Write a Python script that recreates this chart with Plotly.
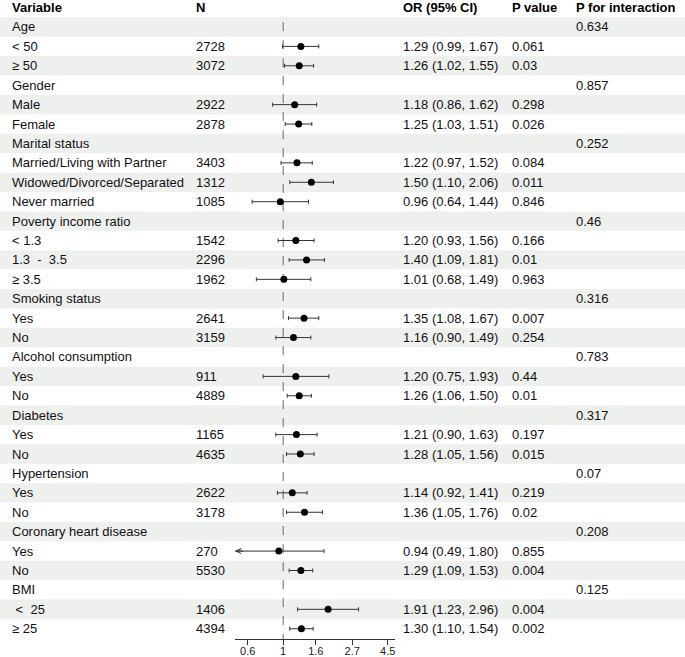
import numpy as np
import plotly.graph_objects as go

# ---------------- data ----------------
labels = ["Age", "< 50", "≥ 50",
          "Gender", "Male", "Female",
          "Marital status", "Married/Living with Partner", "Widowed/Divorced/Separated", "Never married",
          "Poverty income ratio", "< 1.3", "1.3\u00a0\u00a0-\u00a0\u00a03.5", "≥ 3.5",
          "Smoking status", "Yes", "No",
          "Alcohol consumption", "Yes", "No",
          "Diabetes", "Yes", "No",
          "Hypertension", "Yes", "No",
          "Coronary heart disease", "Yes", "No",
          "BMI", "\u00a0<\u00a0\u00a025", "≥ 25"]
n_vals = [None, 2728, 3072,
          None, 2922, 2878,
          None, 3403, 1312, 1085,
          None, 1542, 2296, 1962,
          None, 2641, 3159,
          None, 911, 4889,
          None, 1165, 4635,
          None, 2622, 3178,
          None, 270, 5530,
          None, 1406, 4394]
or_vals = [None, 1.29, 1.26,
           None, 1.18, 1.25,
           None, 1.22, 1.50, 0.96,
           None, 1.20, 1.40, 1.01,
           None, 1.35, 1.16,
           None, 1.20, 1.26,
           None, 1.21, 1.28,
           None, 1.14, 1.36,
           None, 0.94, 1.29,
           None, 1.91, 1.30]
lo_vals = [None, 0.99, 1.02,
           None, 0.86, 1.03,
           None, 0.97, 1.10, 0.64,
           None, 0.93, 1.09, 0.68,
           None, 1.08, 0.90,
           None, 0.75, 1.06,
           None, 0.90, 1.05,
           None, 0.92, 1.05,
           None, 0.49, 1.09,
           None, 1.23, 1.10]
hi_vals = [None, 1.67, 1.55,
           None, 1.62, 1.51,
           None, 1.52, 2.06, 1.44,
           None, 1.56, 1.81, 1.49,
           None, 1.67, 1.49,
           None, 1.93, 1.50,
           None, 1.63, 1.56,
           None, 1.41, 1.76,
           None, 1.80, 1.53,
           None, 2.96, 1.54]
p_vals = [None, "0.061", "0.03",
          None, "0.298", "0.026",
          None, "0.084", "0.011", "0.846",
          None, "0.166", "0.01", "0.963",
          None, "0.007", "0.254",
          None, "0.44", "0.01",
          None, "0.197", "0.015",
          None, "0.219", "0.02",
          None, "0.855", "0.004",
          None, "0.004", "0.002"]
p_int = ["0.634", None, None,
         "0.857", None, None,
         "0.252", None, None, None,
         "0.46", None, None, None,
         "0.316", None, None,
         "0.783", None, None,
         "0.317", None, None,
         "0.07", None, None,
         "0.208", None, None,
         "0.125", None, None]
headers = ["Variable", "N", "OR (95% CI)", "P value", "P for interaction"]
tick_vals = [0.6, 1, 1.6, 2.7, 4.5]
tick_text = ["0.6", "1", "1.6", "2.7", "4.5"]
x_min, x_max = 0.5, 5.0
ref_value = 1

# ---------------- layout constants ----------------
W, H = 685, 657
FONT = "Liberation Sans, Arial, Helvetica, sans-serif"
FS = 13
col_x = [9.5, 194, 401, 510, 574]
shade = "#EEF0EE"
nrows = len(labels)
rows = list(range(nrows))
row0_px, row_px = 27.0, 19.42

fig = go.Figure()

# row shading
for i in rows:
    if i % 2 == 0:
        fig.add_shape(type="rect", xref="paper", yref="y", x0=0, x1=1,
                      y0=i - 0.5, y1=i + 0.5, fillcolor=shade, line_width=0, layer="below")

plot_h = 639.3
y_top = (0 - row0_px) / row_px
y_bot = (plot_h - row0_px) / row_px

# reference dashed line
fig.add_trace(go.Scatter(x=[ref_value, ref_value], y=[-0.25, y_bot + 0.1], mode="lines",
                         line=dict(color="#666666", width=1, dash="dash"),
                         hoverinfo="skip", showlegend=False))

# points with CIs
idx = [i for i in rows if or_vals[i] is not None]
xs = [or_vals[i] for i in idx]
plus = [hi_vals[i] - or_vals[i] for i in idx]
minus = [or_vals[i] - lo_vals[i] for i in idx]
fig.add_trace(go.Scatter(
    x=xs, y=idx, mode="markers",
    marker=dict(color="black", size=7),
    error_x=dict(type="data", array=plus, arrayminus=minus, color="#333333",
                 thickness=1, width=2),
    showlegend=False, hoverinfo="skip"))

# arrows for CIs beyond axis range
for i in idx:
    if lo_vals[i] < x_min:
        fig.add_annotation(x=np.log10(x_min), y=i, ax=np.log10(x_min * 1.15), ay=i,
                           xref="x", yref="y", axref="x", ayref="y", text="",
                           showarrow=True, arrowhead=5, arrowsize=1, arrowwidth=1,
                           arrowcolor="#333333")

# header
for h, cx in zip(headers, col_x):
    fig.add_annotation(x=cx / W, y=-1, xref="paper", yref="y", xanchor="left", yanchor="middle",
                       text=f"<b>{h}</b>", showarrow=False, font=dict(family=FONT, size=FS, color="black"))

# table text
def txt(s, cx, i):
    fig.add_annotation(x=cx / W, y=i, xref="paper", yref="y", xanchor="left", yanchor="middle",
                       text=s, showarrow=False, font=dict(family=FONT, size=FS, color="#111111"))

for i in rows:
    txt(labels[i], col_x[0], i)
    if n_vals[i] is not None:
        txt(str(n_vals[i]), col_x[1], i)
    if or_vals[i] is not None:
        txt(f"{or_vals[i]:.2f} ({lo_vals[i]:.2f}, {hi_vals[i]:.2f})", col_x[2], i)
    if p_vals[i] is not None:
        txt(p_vals[i], col_x[3], i)
    if p_int[i] is not None:
        txt(p_int[i], col_x[4], i)

fig.update_layout(
    width=W, height=H,
    margin=dict(l=0, r=0, t=0, b=H - plot_h, pad=0),
    plot_bgcolor="rgba(0,0,0,0)", paper_bgcolor="white",
    xaxis=dict(type="log", range=[np.log10(x_min), np.log10(x_max)],
               domain=[235 / W, 395 / W], showgrid=False, zeroline=False,
               showline=True, linecolor="#333333", linewidth=1,
               ticks="outside", ticklen=5, tickcolor="#333333", tickwidth=1,
               tickvals=tick_vals, ticktext=tick_text, ticklabelstandoff=-3,
               tickfont=dict(family=FONT, size=11, color="#222222"), automargin=False),
    yaxis=dict(range=[y_bot, y_top], visible=False, domain=[0, 1]),
    showlegend=False,
)

fig.write_html("out.html", config={"displayModeBar": False},
               post_script="document.body.style.margin='0';document.body.style.overflow='hidden';")
